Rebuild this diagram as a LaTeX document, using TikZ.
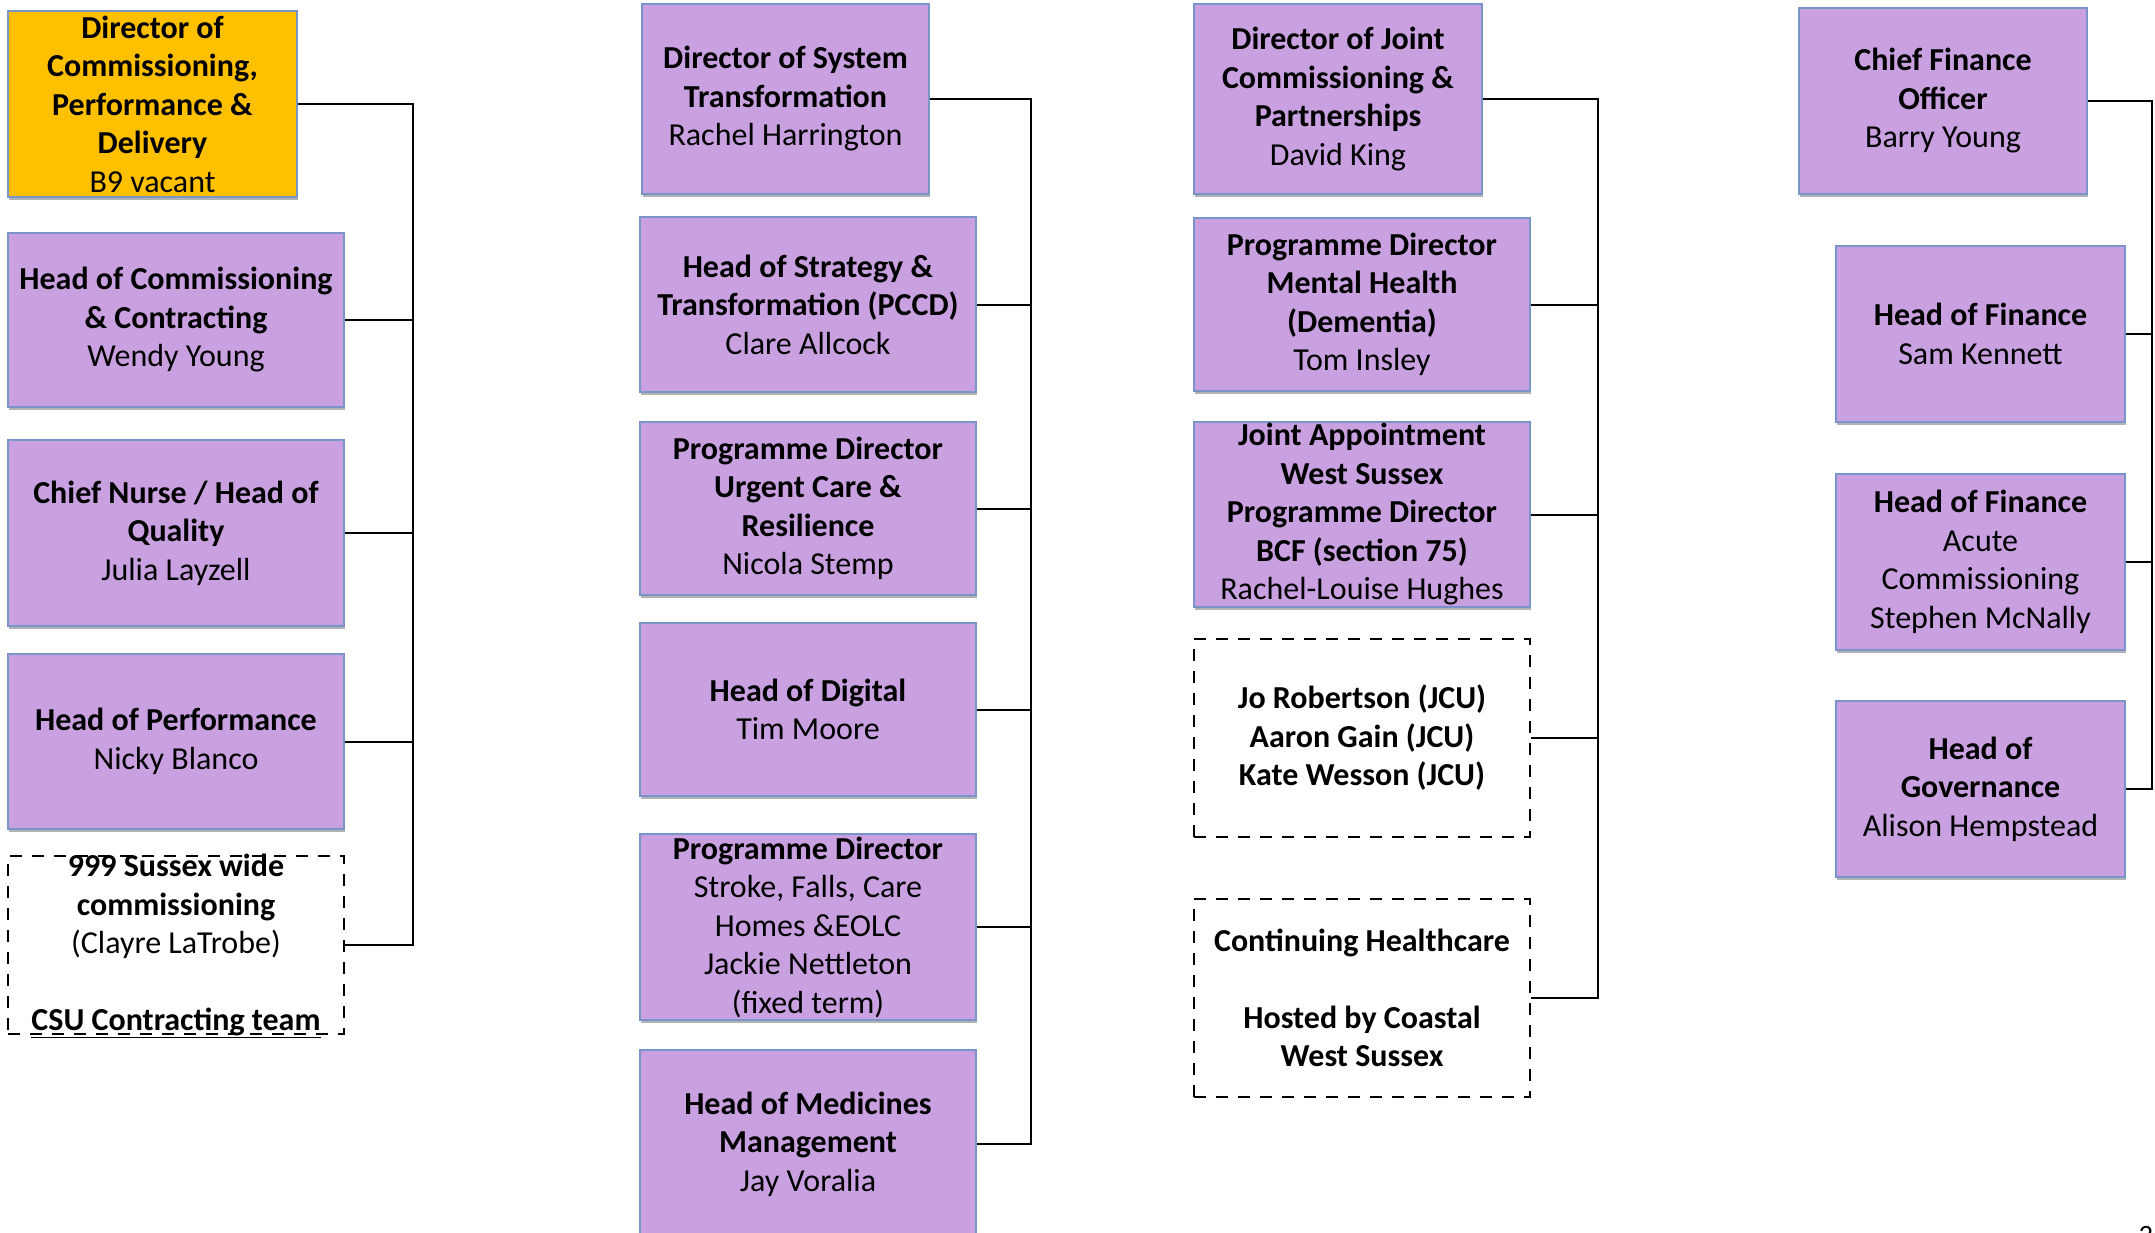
\documentclass[tikz,border=0pt]{standalone}
\usepackage{fontspec}
\setmainfont{Carlito}
\usetikzlibrary{shadows}
\definecolor{lav}{RGB}{201,161,224}
\definecolor{bord}{RGB}{120,148,200}
\definecolor{gold}{RGB}{255,192,0}
\begin{document}
\begin{tikzpicture}[x=1pt,y=-1pt,
  pbox/.style={draw=bord, line width=1.5pt, fill=lav, inner sep=0pt,
    drop shadow={shadow xshift=1pt, shadow yshift=-3pt, opacity=0.3, fill=black}},
  obox/.style={pbox, fill=gold},
  dbox/.style={draw=black, line width=1.8pt, dash pattern=on 12pt off 10pt, inner sep=0pt},
  txt/.style={align=center, inner sep=0pt, font=\fontsize{32}{38.5}\selectfont},
  conn/.style={draw=black, line width=2pt}
]
\useasboundingbox (0,0) rectangle (2155,1232);
\clip (0,0) rectangle (2155,1232);

% ---------- column 1 ----------
\node[obox, minimum width=289pt, minimum height=186pt] (dcpd) at (152.5,104) {};
\node[txt] (dcpdt) at (dcpd.center) {\textbf{Director of}\\\textbf{Commissioning,}\\\textbf{Performance \&}\\\textbf{Delivery}\\B9 vacant};
\node[pbox, minimum width=336pt, minimum height=174pt] (hcc) at (176,320) {};
\node[txt] (hcct) at (hcc.center) {\textbf{Head of Commissioning}\\\textbf{\& Contracting}\\Wendy Young};
\node[pbox, minimum width=336pt, minimum height=186pt] (cnq) at (176,533) {};
\node[txt] (cnqt) at (cnq.center) {\textbf{Chief Nurse / Head of}\\\textbf{Quality}\\Julia Layzell};
\node[pbox, minimum width=336pt, minimum height=175pt] (hp) at (176,741.5) {};
\node[txt] (hpt) at (hp.center) {\textbf{Head of Performance}\\Nicky Blanco};
\node[dbox, minimum width=336pt, minimum height=178pt] (c999) at (176,945) {};
\node[txt] (c999t) at (176,946) {\textbf{999 Sussex wide}\\\textbf{commissioning}\\(Clayre LaTrobe)\\[38.5pt]\underline{\textbf{CSU Contracting team}}};

\coordinate (k1) at (413,0);
\draw[conn] (dcpd.east) -| (k1 |- c999.east) -- (c999.east);
\foreach \n in {hcc,cnq,hp} \draw[conn] (\n.east) -- (k1 |- \n.east);

% ---------- column 2 ----------
\node[pbox, minimum width=287pt, minimum height=190pt] (dst) at (785.5,99) {};
\node[txt] (dstt) at (dst.center) {\textbf{Director of System}\\\textbf{Transformation}\\Rachel Harrington};
\node[pbox, minimum width=336pt, minimum height=175pt] (hst) at (808,304.5) {};
\node[txt] (hstt) at (hst.center) {\textbf{Head of Strategy \&}\\\textbf{Transformation (PCCD)}\\Clare Allcock};
\node[pbox, minimum width=336pt, minimum height=173pt] (puc) at (808,508.5) {};
\node[txt] (puct) at (puc.center) {\textbf{Programme Director}\\\textbf{Urgent Care \&}\\\textbf{Resilience}\\Nicola Stemp};
\node[pbox, minimum width=336pt, minimum height=173pt] (hd) at (808,709.5) {};
\node[txt] (hdt) at (hd.center) {\textbf{Head of Digital}\\Tim Moore};
\node[pbox, minimum width=336pt, minimum height=186pt] (psf) at (808,927) {};
\node[txt] (psft) at (psf.center) {\textbf{Programme Director}\\Stroke, Falls, Care\\Homes \&EOLC\\Jackie Nettleton\\(fixed term)};
\node[pbox, minimum width=336pt, minimum height=188pt] (hmm) at (808,1144) {};
\node[txt] (hmmt) at (hmm.center) {\textbf{Head of Medicines}\\\textbf{Management}\\Jay Voralia};

\coordinate (k2) at (1031,0);
\draw[conn] (dst.east) -| (k2 |- hmm.east) -- (hmm.east);
\foreach \n in {hst,puc,hd,psf} \draw[conn] (\n.east) -- (k2 |- \n.east);

% ---------- column 3 ----------
\node[pbox, minimum width=288pt, minimum height=190pt] (djc) at (1338,99) {};
\node[txt] (djct) at (djc.center) {\textbf{Director of Joint}\\\textbf{Commissioning \&}\\\textbf{Partnerships}\\David King};
\node[pbox, minimum width=336pt, minimum height=173pt] (pmh) at (1362,304.5) {};
\node[txt] (pmht) at (pmh.center) {\textbf{Programme Director}\\\textbf{Mental Health}\\\textbf{(Dementia)}\\Tom Insley};
\node[pbox, minimum width=336pt, minimum height=185pt] (jap) at (1362,514.5) {};
\node[txt] (japt) at (jap.center) {\textbf{Joint Appointment}\\\textbf{West Sussex}\\\textbf{Programme Director}\\\textbf{BCF (section 75)}\\Rachel-Louise Hughes};
\node[dbox, minimum width=336pt, minimum height=198pt] (jcu) at (1362,738) {};
\node[txt] (jcut) at (jcu.center) {\textbf{Jo Robertson (JCU)}\\\textbf{Aaron Gain (JCU)}\\\textbf{Kate Wesson (JCU)}};
\node[dbox, minimum width=336pt, minimum height=198pt] (chc) at (1362,998) {};
\node[txt] (chct) at (chc.center) {\textbf{Continuing Healthcare}\\[38.5pt]\textbf{Hosted by Coastal}\\\textbf{West Sussex}};

\coordinate (k3) at (1598,0);
\draw[conn] (djc.east) -| (k3 |- chc.east) -- (chc.east);
\foreach \n in {pmh,jap,jcu} \draw[conn] (\n.east) -- (k3 |- \n.east);

% ---------- column 4 ----------
\node[pbox, minimum width=288pt, minimum height=186pt] (cfo) at (1943,101) {};
\node[txt] (cfot) at (cfo.center) {\textbf{Chief Finance}\\\textbf{Officer}\\Barry Young};
\node[pbox, minimum width=289pt, minimum height=176pt] (hfs) at (1980.5,334) {};
\node[txt] (hfst) at (hfs.center) {\textbf{Head of Finance}\\Sam Kennett};
\node[pbox, minimum width=289pt, minimum height=176pt] (hfa) at (1980.5,562) {};
\node[txt] (hfat) at (hfa.center) {\textbf{Head of Finance}\\Acute\\Commissioning\\Stephen McNally};
\node[pbox, minimum width=289pt, minimum height=176pt] (hg) at (1980.5,789) {};
\node[txt] (hgt) at (hg.center) {\textbf{Head of}\\\textbf{Governance}\\Alison Hempstead};

\coordinate (k4) at (2152,0);
\draw[conn] (cfo.east) -| (k4 |- hg.east) -- (hg.east);
\foreach \n in {hfs,hfa} \draw[conn] (\n.east) -- (k4 |- \n.east);

% page number fragment
\node[anchor=north, inner sep=0pt, font=\fontsize{28}{30}\selectfont] (pg) at (2146,1226) {2};
\end{tikzpicture}
\end{document}
